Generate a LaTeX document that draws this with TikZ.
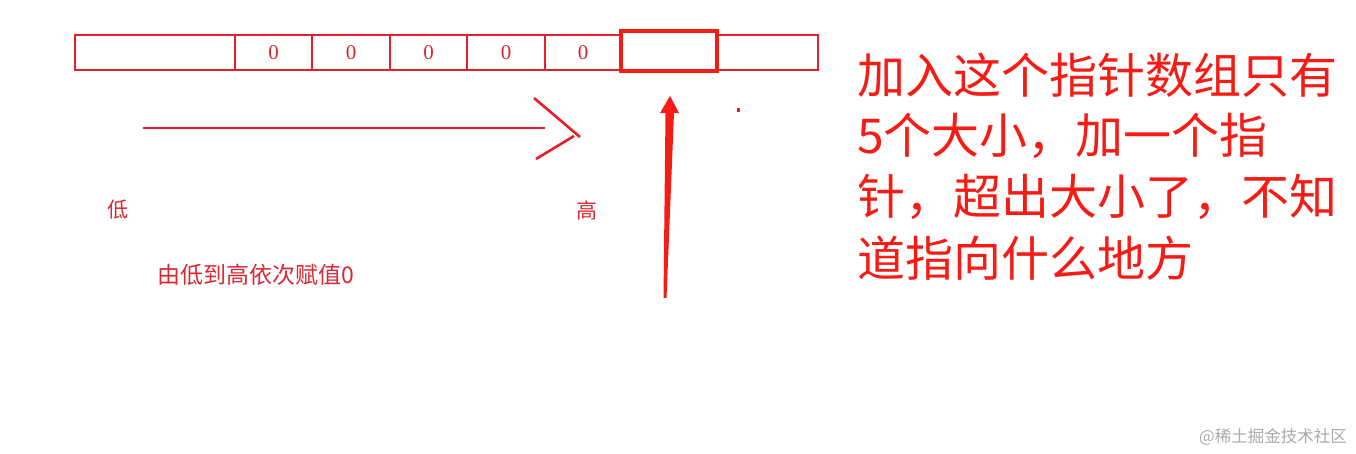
\documentclass[tikz,border=0pt]{standalone}
\usepackage{fontspec}
\newfontfamily\cjk{Noto Sans CJK SC}
\setmainfont{Liberation Serif}
\definecolor{arrred}{RGB}{230,30,42}
\definecolor{lblred}{RGB}{218,40,50}
\definecolor{bigred}{RGB}{245,28,22}
\definecolor{wmgray}{RGB}{170,170,170}
\tikzset{
  cell/.style={draw=arrred, line width=2.6pt, inner sep=0pt, outer sep=0pt, minimum height=35pt, anchor=north west, font=\fontsize{21}{21}\selectfont, text=lblred},
  boldcell/.style={draw=bigred, line width=4.2pt, inner sep=0pt, outer sep=0pt, minimum height=40pt, minimum width=96pt, anchor=north west},
  hand/.style={draw=arrred, line width=2.6pt},
  lbl/.style={text=lblred, font=\cjk\fontsize{21}{21}\selectfont, inner sep=0pt},
  big/.style={text=bigred, font=\cjk\fontsize{48}{61}\selectfont, inner sep=0pt, anchor=west},
  wm/.style={text=wmgray, font=\cjk\fontsize{16.5}{17}\selectfont, inner sep=0pt, anchor=east}
}
\begin{document}
\begin{tikzpicture}[x=1pt, y=-1pt]
\useasboundingbox[fill=white] (0,0) rectangle (1356,453);
% array cells
\node[cell, minimum width=160pt] (c1) at (75,35) {};
\node[cell, minimum width=77pt] (c2) at (235,35) {0};
\node[cell, minimum width=78pt] (c3) at (312,35) {0};
\node[cell, minimum width=77pt] (c4) at (390,35) {0};
\node[cell, minimum width=78pt] (c5) at (467,35) {0};
\node[cell, minimum width=76pt] (c6) at (545,35) {0};
\node[cell, minimum width=101pt] (c8) at (717,35) {};
\node[boldcell] (c7) at (621,31) {};
% horizontal hand-drawn arrow
\coordinate (hs) at (143,128);
\coordinate (he) at (545,128);
\draw[hand] (hs) -- (he);
\coordinate (ha1) at (534,98);
\coordinate (ha2) at (580,137);
\coordinate (hb1) at (536,159);
\coordinate (hb2) at (574,136);
\draw[hand] (ha1) -- (ha2);
\draw[hand] (hb1) -- (hb2);
% vertical tapered arrow
\coordinate (vt) at (670,96);
\fill[bigred] (665,298) -- (663.5,298) -- (665.5,113) -- (660,113) -- (vt) -- (679,113) -- (674,113) -- (666.5,298) -- cycle;
% small dot
\fill[arrred] (737,108) rectangle (740,112);
% labels
\node[lbl] (lo) at (118,210) {低};
\node[lbl] (hi) at (587,210) {高};
\node[lbl, anchor=west, font=\cjk\fontsize{23}{23}\selectfont] (note) at (157,275) {由低到高依次赋值0};
% big text
\node[big] (t1) at (857,75) {加入这个指针数组只有};
\node[big] (t2) at (857,136) {5个大小，加一个指};
\node[big] (t3) at (857,197) {针，超出大小了，不知};
\node[big] (t4) at (857,258) {道指向什么地方};
% watermark
\node[wm] (wm) at (1347,437) {@稀土掘金技术社区};
\end{tikzpicture}
\end{document}
